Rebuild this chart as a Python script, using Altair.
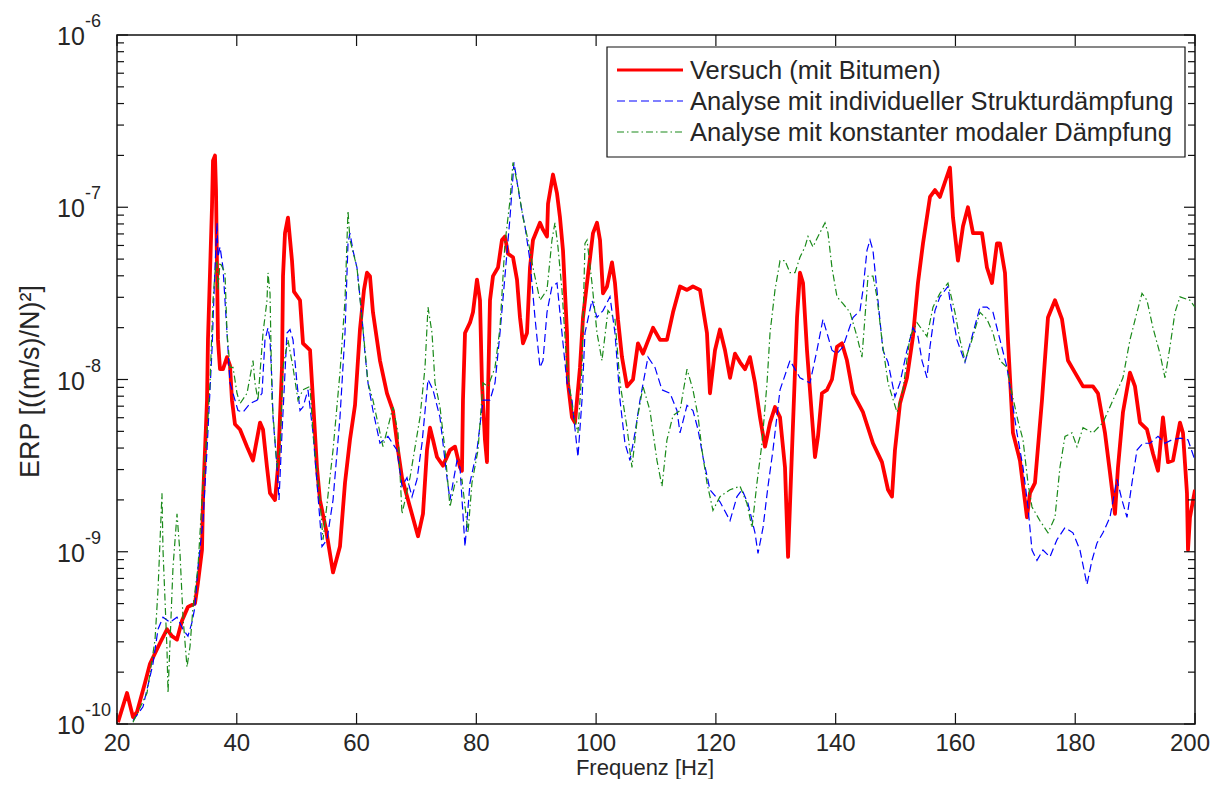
import altair as alt
import pandas as pd

# ---------------- data (frequency in Hz, log10 of ERP) ----------------
red_f = [20.17, 21.67, 22.67, 23.34, 24.68, 25.51, 27.18, 28.35, 29.18, 30.02, 30.85, 31.85, 33.02, 33.52, 34.19,
         34.36, 35.03, 35.19, 35.53, 35.86, 36.03, 36.36, 36.53, 36.86, 37.20, 37.70, 38.37, 38.87, 39.20, 39.70,
         40.54, 41.71, 42.71, 43.88, 44.38, 45.05, 45.55, 46.38, 46.88, 47.55, 47.72, 48.05, 48.55, 49.22, 49.55,
         50.56, 51.06, 52.23, 52.73, 53.39, 53.89, 54.90, 56.07, 57.23, 58.07, 58.90, 59.74, 60.57, 61.24, 61.74,
         62.24, 62.74, 63.91, 65.08, 66.08, 66.92, 67.59, 68.92, 70.26, 71.09, 71.76, 72.26, 72.76, 73.43, 74.43,
         75.60, 76.44, 77.27, 77.60, 77.77, 78.11, 78.94, 79.44, 80.11, 80.61, 80.94, 81.44, 81.78, 81.95, 82.28,
         82.78, 83.62, 84.28, 84.78, 85.29, 86.12, 86.79, 87.29, 87.79, 88.46, 88.96, 89.46, 90.63, 91.13, 91.80,
         91.97, 92.80, 93.47, 93.97, 94.47, 95.14, 95.30, 95.97, 96.47, 97.31, 97.81, 98.48, 99.48, 100.15, 100.65,
         101.15, 101.82, 102.65, 103.15, 103.65, 104.32, 105.16, 106.16, 106.99, 107.83, 109.50, 110.67, 111.83,
         112.84, 114.01, 115.18, 116.17, 117.35, 118.51, 119.01, 119.85, 120.68, 121.52, 122.36, 123.19, 124.03,
         124.86, 125.69, 126.53, 127.37, 128.20, 129.04, 129.87, 130.71, 131.54, 132.05, 132.71, 133.55, 134.04,
         134.55, 135.21, 136.05, 136.55, 137.05, 137.71, 138.55, 139.38, 140.22, 141.05, 141.89, 142.89, 144.56,
         146.23, 147.73, 148.74, 149.40, 149.90, 150.74, 151.91, 152.91, 153.74, 154.58, 155.75, 156.58, 157.41,
         158.58, 159.08, 159.59, 160.42, 161.26, 162.09, 162.93, 164.43, 165.26, 166.10, 166.93, 167.44, 168.27,
         168.77, 169.60, 170.77, 171.94, 172.44, 173.28, 174.45, 175.45, 176.62, 177.79, 178.79, 179.96, 181.30,
         182.96, 183.80, 184.97, 185.80, 186.64, 187.14, 187.97, 189.14, 189.98, 190.81, 191.98, 192.98, 193.82,
         194.65, 195.49, 196.33, 197.49, 197.99, 198.66, 198.83, 199.16, 200.00]
red_log = [-9.99, -9.82, -9.96, -9.93, -9.76, -9.65, -9.53, -9.45, -9.49, -9.51, -9.40, -9.32, -9.30, -9.18, -8.99,
           -8.70, -8.12, -7.77, -7.38, -7.00, -6.73, -6.70, -6.90, -7.77, -7.94, -7.94, -7.87, -7.92, -8.12, -8.26,
           -8.29, -8.39, -8.47, -8.25, -8.29, -8.51, -8.66, -8.70, -8.51, -7.93, -7.40, -7.15, -7.06, -7.31, -7.49,
           -7.54, -7.79, -7.83, -8.12, -8.51, -8.70, -8.87, -9.12, -8.97, -8.60, -8.35, -8.15, -7.71, -7.48, -7.38,
           -7.40, -7.61, -7.89, -8.08, -8.18, -8.41, -8.57, -8.74, -8.91, -8.78, -8.41, -8.28, -8.35, -8.45, -8.50,
           -8.41, -8.39, -8.51, -8.53, -8.12, -7.73, -7.67, -7.61, -7.42, -7.54, -8.02, -8.35, -8.48, -8.08, -7.54,
           -7.40, -7.35, -7.19, -7.17, -7.27, -7.29, -7.42, -7.64, -7.79, -7.73, -7.35, -7.19, -7.09, -7.13, -7.17,
           -6.98, -6.81, -6.92, -7.06, -7.25, -7.73, -8.02, -8.22, -8.25, -7.93, -7.64, -7.44, -7.15, -7.09, -7.19,
           -7.50, -7.46, -7.32, -7.44, -7.65, -7.87, -8.04, -8.00, -7.79, -7.85, -7.70, -7.77, -7.77,
           -7.61, -7.46, -7.48, -7.46, -7.48, -7.73, -8.08, -7.83, -7.71, -7.83, -7.99, -7.85, -7.90,
           -7.94, -7.87, -8.02, -8.22, -8.39, -8.25, -8.16, -8.22, -8.51, -9.03, -8.41, -7.64, -7.38,
           -7.44, -7.83, -8.22, -8.45, -8.33, -8.08, -8.06, -8.00, -7.81, -7.79, -7.89, -8.08, -8.19,
           -8.37, -8.48, -8.64, -8.68, -8.41, -8.14, -7.99, -7.75, -7.44, -7.21, -6.94, -6.90, -6.94,
           -6.82, -6.77, -7.06, -7.31, -7.11, -7.00, -7.15, -7.15, -7.35, -7.44, -7.21, -7.21, -7.38,
           -7.77, -8.31, -8.47, -8.80, -8.66, -8.60, -8.12, -7.64, -7.54, -7.65, -7.89, -7.96, -8.04,
           -8.04, -8.08, -8.31, -8.54, -8.78, -8.51, -8.19, -7.96, -8.04, -8.25, -8.29, -8.43, -8.53,
           -8.22, -8.48, -8.47, -8.25, -8.31, -8.66, -8.99, -8.80, -8.64]

blue_f = [22.67, 24.34, 26.01, 26.85, 27.68, 28.85, 30.02, 31.02, 31.85, 32.52, 33.02, 33.52, 34.36, 35.03, 35.86,
          36.36, 36.70, 36.86, 37.20, 37.70, 38.03, 38.37, 38.87, 39.37, 40.20, 41.04, 42.21, 43.38, 44.21, 44.71,
          45.21, 45.55, 45.88, 46.05, 46.72, 47.05, 47.55, 48.38, 48.89, 49.39, 50.05, 50.56, 51.06, 51.89, 52.73,
          53.39, 54.23, 55.06, 56.07, 57.23, 58.07, 58.57, 58.90, 59.40, 60.07, 60.91, 61.41, 61.91, 62.74, 63.91,
          65.25, 66.75, 67.59, 68.42, 69.26, 70.09, 70.93, 71.93, 72.76, 73.93, 75.10, 75.60, 76.77, 77.27, 78.11,
          78.94, 80.11, 81.11, 82.28, 83.12, 83.95, 84.78, 85.62, 86.29, 87.29, 88.12, 88.96, 89.79, 90.63, 91.13,
          91.80, 92.63, 93.47, 94.30, 95.14, 95.97, 96.97, 97.64, 98.14, 99.31, 100.15, 101.15, 102.32, 103.15,
          103.99, 104.82, 105.66, 106.49, 107.33, 108.66, 109.83, 111.00, 112.34, 113.50, 114.01, 115.18, 116.17,
          117.01, 117.85, 119.01, 120.68, 122.36, 123.52, 124.36, 125.36, 126.53, 127.03, 127.87, 128.70, 129.53,
          130.71, 132.37, 134.04, 135.71, 136.88, 137.88, 139.38, 140.22, 141.22, 142.89, 144.06, 144.56, 145.23,
          145.73, 146.23, 146.89, 147.89, 148.74, 149.90, 150.74, 151.91, 152.91, 153.74, 154.41, 155.25, 155.75,
          156.58, 157.41, 158.75, 159.08, 160.25, 161.59, 162.93, 164.10, 165.26, 166.27, 167.44, 168.61, 169.44,
          170.27, 171.28, 172.11, 172.78, 173.61, 174.61, 175.78, 176.95, 178.29, 179.62, 180.79, 181.96, 182.80,
          183.63, 184.63, 185.80, 186.97, 187.81, 188.64, 189.48, 190.31, 191.31, 192.48, 193.82, 194.99, 196.16,
          197.49, 198.83, 200.00]
blue_log = [-9.98, -9.90, -9.65, -9.45, -9.38, -9.41, -9.38, -9.45, -9.49, -9.41, -9.32, -9.09, -8.82, -8.41, -7.83,
            -7.35, -7.09, -7.29, -7.23, -7.35, -7.54, -7.73, -8.02, -8.08, -8.18, -8.19, -8.14, -8.12, -8.08, -7.77,
            -7.70, -7.77, -8.02, -8.22, -8.51, -8.70, -8.31, -7.73, -7.71, -7.77, -8.02, -8.18, -8.16, -8.06, -8.31,
            -8.60, -8.97, -8.93, -8.70, -8.22, -7.73, -7.21, -7.15, -7.25, -7.35, -7.64, -7.85, -8.02, -8.18, -8.37,
            -8.33, -8.41, -8.62, -8.57, -8.68, -8.58, -8.37, -8.00, -8.06, -8.22, -8.57, -8.70, -8.47, -8.51, -8.97,
            -8.60, -8.41, -8.12, -8.12, -8.02, -7.73, -7.40, -7.06, -6.74, -6.96, -7.11, -7.31, -7.64, -7.93, -7.89,
            -7.61, -7.46, -7.44, -7.73, -8.02, -8.12, -8.45, -8.12, -7.73, -7.54, -7.64, -7.60, -7.52, -7.73,
            -8.12, -8.37, -8.47, -8.31, -8.12, -7.87, -7.93, -8.06, -8.08, -8.18, -8.31, -8.15, -8.18,
            -8.29, -8.45, -8.64, -8.71, -8.82, -8.68, -8.64, -8.72, -8.89, -9.01, -8.86, -8.62, -8.41,
            -8.06, -7.89, -7.99, -8.02, -7.83, -7.65, -7.83, -7.85, -7.81, -7.64, -7.60, -7.48, -7.25,
            -7.19, -7.25, -7.48, -7.83, -7.90, -8.10, -8.02, -7.83, -7.70, -7.75, -7.89, -7.99, -7.81,
            -7.60, -7.52, -7.46, -7.54, -7.77, -7.90, -7.73, -7.58, -7.58, -7.61, -7.77, -7.93, -8.12,
            -8.31, -8.51, -8.74, -8.99, -9.05, -8.99, -9.03, -8.93, -8.86, -8.89, -8.99, -9.19, -9.05,
            -8.95, -8.89, -8.80, -8.58, -8.70, -8.80, -8.60, -8.41, -8.37, -8.37, -8.33, -8.37, -8.35,
            -8.34, -8.35, -8.47]

green_f = [22.67, 25.01, 25.84, 26.35, 26.85, 27.51, 27.68, 28.35, 28.52, 28.85, 29.35, 30.02, 30.52, 31.02, 31.69,
           32.19, 32.69, 33.52, 34.36, 35.03, 35.53, 36.03, 36.36, 36.70, 36.86, 37.20, 38.03, 38.37, 38.87, 39.37,
           40.04, 40.54, 41.71, 42.71, 43.04, 43.54, 44.38, 45.05, 45.21, 45.55, 45.88, 46.72, 47.22, 47.72, 48.55,
           49.39, 50.22, 51.06, 52.23, 52.73, 53.89, 54.40, 56.07, 57.23, 58.07, 58.57, 58.90, 60.07, 61.41, 61.91,
           62.74, 64.41, 66.08, 66.92, 67.59, 68.92, 70.59, 71.43, 71.93, 72.60, 73.10, 73.93, 74.77, 75.60, 76.44,
           77.60, 78.61, 79.27, 80.28, 81.11, 81.95, 83.12, 83.95, 84.78, 85.62, 86.12, 86.96, 87.79, 88.63, 89.46,
           90.63, 91.80, 92.63, 93.13, 93.63, 94.30, 95.14, 96.14, 96.97, 97.64, 98.14, 98.48, 99.31, 100.15,
           100.98, 101.98, 103.15, 103.99, 105.16, 105.99, 106.83, 107.83, 108.99, 110.16, 111.00, 111.83, 112.84,
           114.01, 115.18, 116.17, 117.01, 117.68, 118.51, 119.51, 120.68, 122.36, 124.03, 125.19, 126.03, 126.86,
           127.70, 128.54, 129.04, 129.87, 130.71, 131.54, 132.37, 133.21, 134.04, 134.88, 135.38, 136.21, 137.05,
           138.22, 138.72, 139.38, 140.22, 141.22, 142.39, 143.56, 144.39, 144.89, 145.40, 146.23, 146.89, 147.73,
           148.74, 150.24, 151.24, 152.41, 153.58, 155.25, 156.25, 157.41, 158.75, 159.92, 160.76, 161.59, 162.76,
           164.10, 165.26, 166.27, 167.44, 168.61, 169.44, 170.44, 171.28, 172.11, 172.78, 174.11, 175.45, 176.62,
           177.45, 178.29, 179.46, 180.29, 181.30, 182.96, 184.63, 186.30, 187.97, 189.14, 190.31, 191.15, 191.98,
           192.98, 194.15, 194.99, 195.82, 196.66, 197.49, 199.16, 200.00]
green_log = [-9.99, -9.82, -9.63, -9.51, -9.22, -8.66, -8.99, -9.57, -9.82, -9.53, -9.09, -8.78, -9.01, -9.38, -9.67,
             -9.55, -9.32, -9.09, -8.60, -8.31, -8.02, -7.54, -7.38, -7.31, -7.48, -7.32, -7.38, -7.73, -7.93, -7.93,
             -8.08, -8.14, -8.08, -7.89, -8.02, -8.12, -7.73, -7.54, -7.38, -7.50, -8.12, -8.51, -8.41, -7.93, -7.77,
             -7.93, -8.12, -8.06, -8.04, -8.31, -8.70, -8.93, -8.41, -7.96, -7.54, -7.02, -7.19, -7.35, -7.83, -8.02,
             -8.12, -8.39, -8.16, -8.31, -8.78, -8.57, -8.22, -7.93, -7.58, -7.73, -8.02, -8.16, -8.41, -8.74, -8.60,
             -8.58, -8.89, -8.60, -8.41, -8.02, -8.04, -7.93, -7.70, -7.21, -6.96, -6.74, -6.88, -7.06, -7.19, -7.35,
             -7.54, -7.48, -7.19, -7.09, -7.23, -7.48, -7.93, -8.19, -8.31, -7.93, -7.21, -7.19, -7.44, -7.73,
             -7.89, -7.60, -7.65, -8.02, -8.28, -8.51, -8.24, -8.04, -8.18, -8.47, -8.62, -8.35, -8.21,
             -8.18, -7.94, -8.06, -8.21, -8.41, -8.60, -8.76, -8.68, -8.64, -8.62, -8.72, -8.86, -8.60,
             -8.37, -8.02, -7.73, -7.48, -7.31, -7.31, -7.38, -7.38, -7.29, -7.23, -7.17, -7.23, -7.17,
             -7.09, -7.15, -7.35, -7.52, -7.56, -7.61, -7.75, -7.87, -7.64, -7.40, -7.40, -7.52, -7.77,
             -8.02, -8.19, -8.06, -7.75, -7.67, -7.75, -7.58, -7.50, -7.44, -7.61, -7.77, -7.89, -7.77,
             -7.61, -7.65, -7.73, -7.89, -7.93, -8.08, -8.24, -8.35, -8.60, -8.74, -8.82, -8.89, -8.80,
             -8.51, -8.33, -8.31, -8.39, -8.28, -8.31, -8.25, -8.12, -7.99, -7.77, -7.61, -7.50, -7.54,
             -7.70, -7.85, -7.99, -7.81, -7.61, -7.52, -7.54, -7.58]

series_names = ["Versuch (mit Bitumen)",
                "Analyse mit individueller Strukturdämpfung",
                "Analyse mit konstanter modaler Dämpfung"]
series_colors = ["#ff0000", "#0000ff", "#1a8a1a"]

x_tick_values = [20, 40, 60, 80, 100, 120, 140, 160, 180, 200]
x_tick_labels = ["20", "40", "60", "80", "100", "120", "140", "160", "180", "200"]
y_major_values = [1e-10, 1e-9, 1e-8, 1e-7, 1e-6]
y_exp_labels = ["-10", "-9", "-8", "-7", "-6"]
y_minor_values = [m * d for d in [1e-10, 1e-9, 1e-8, 1e-7] for m in range(2, 10)]

# ---------------- chart ----------------
W, H = 1078, 689
FONT = "Liberation Sans"
TXT = "#262626"

xscale = alt.Scale(domain=[20, 200], nice=False, zero=False)
yscale = alt.Scale(type="log", domain=[1e-10, 1e-6], nice=False)


def X(field):
    return alt.X(field, type="quantitative", scale=xscale, axis=None)


def Y(field):
    return alt.Y(field, type="quantitative", scale=yscale, axis=None)


def line_df(f, lg):
    return pd.DataFrame({"f": f, "v": [10 ** e for e in lg]})


red = alt.Chart(line_df(red_f, red_log)).mark_line(
    color=series_colors[0], strokeWidth=3.8, clip=True, strokeJoin="round").encode(x=X("f"), y=Y("v"))
blue = alt.Chart(line_df(blue_f, blue_log)).mark_line(
    color=series_colors[1], strokeWidth=1.2, strokeDash=[8, 4], clip=True).encode(x=X("f"), y=Y("v"))
green = alt.Chart(line_df(green_f, green_log)).mark_line(
    color=series_colors[2], strokeWidth=1.2, strokeDash=[7, 3, 1.5, 3], clip=True).encode(x=X("f"), y=Y("v"))

ymaj = pd.DataFrame({"v": y_major_values, "e": y_exp_labels})
ymin = pd.DataFrame({"v": y_minor_values})
xt = pd.DataFrame({"f": x_tick_values, "lab": x_tick_labels})

tick_style = dict(color="#111", strokeWidth=1.2)
ticks = [
    alt.Chart(ymaj).mark_rule(**tick_style).encode(y=Y("v"), x=alt.value(0), x2=alt.value(11)),
    alt.Chart(ymaj).mark_rule(**tick_style).encode(y=Y("v"), x=alt.value(W - 11), x2=alt.value(W)),
    alt.Chart(ymin).mark_rule(**tick_style).encode(y=Y("v"), x=alt.value(0), x2=alt.value(7)),
    alt.Chart(ymin).mark_rule(**tick_style).encode(y=Y("v"), x=alt.value(W - 7), x2=alt.value(W)),
    alt.Chart(xt).mark_rule(**tick_style).encode(x=X("f"), y=alt.value(H - 11), y2=alt.value(H)),
    alt.Chart(xt).mark_rule(**tick_style).encode(x=X("f"), y=alt.value(0), y2=alt.value(11)),
]

# x tick labels (last one kept inside the page)
xlab_mid = alt.Chart(xt).transform_filter("datum.f < 200").mark_text(
    font=FONT, fontSize=24, color=TXT, align="center", baseline="top").encode(
    x=X("f"), y=alt.value(H + 8), text="lab:N")
xlab_end = alt.Chart(xt).transform_filter("datum.f >= 200").mark_text(
    font=FONT, fontSize=24, color=TXT, align="right", baseline="top", dx=15).encode(
    x=X("f"), y=alt.value(H + 8), text="lab:N")

ylab_base = alt.Chart(ymaj).mark_text(text="10", font=FONT, fontSize=25, color=TXT, align="left",
                                      baseline="alphabetic", dy=10).encode(y=Y("v"), x=alt.value(-60))
ylab_exp = alt.Chart(ymaj).mark_text(font=FONT, fontSize=18, color=TXT, align="left",
                                     baseline="alphabetic", dy=-8).encode(y=Y("v"), x=alt.value(-32), text="e:N")

one = pd.DataFrame({"k": [0]})
ytitle = alt.Chart(one).mark_text(text="ERP [((m/s)/N)²]", font=FONT, fontSize=27, color=TXT, angle=270,
                                  align="center", baseline="middle").encode(x=alt.value(-86), y=alt.value(H / 2 + 2))
xtitle = alt.Chart(one).mark_text(text="Frequenz [Hz]", font=FONT, fontSize=22, color=TXT,
                                  align="center", baseline="alphabetic").encode(x=alt.value(W / 2 - 11), y=alt.value(H + 51))

# legend box
LX0, LX1, LY0, LY1 = 490, 1068, 12, 122
legend_box = alt.Chart(one).mark_rect(fill="white", stroke="#111", strokeWidth=1.2).encode(
    x=alt.value(LX0), x2=alt.value(LX1), y=alt.value(LY0), y2=alt.value(LY1))
row_y = [35, 66, 97]
legend_layers = [legend_box]
dashes = [None, [8, 4], [7, 3, 1.5, 3]]
widths = [3, 1.2, 1.2]
for i in range(3):
    kw = dict(color=series_colors[i], strokeWidth=widths[i])
    if dashes[i] is not None:
        kw["strokeDash"] = dashes[i]
    legend_layers.append(alt.Chart(one).mark_rule(**kw).encode(
        x=alt.value(LX0 + 10), x2=alt.value(LX0 + 76), y=alt.value(row_y[i])))
    legend_layers.append(alt.Chart(pd.DataFrame({"label": [series_names[i]]})).mark_text(
        font=FONT, fontSize=25.5, color=TXT, align="left", baseline="middle").encode(
        x=alt.value(LX0 + 83), y=alt.value(row_y[i] + 1), text="label:N"))

chart = alt.layer(red, blue, green, *ticks, xlab_mid, xlab_end, ylab_base, ylab_exp, ytitle, xtitle,
                  *legend_layers).properties(
    width=W, height=H,
    padding={"left": 109, "top": 27, "right": 16, "bottom": 55},
    autosize=alt.AutoSizeParams(type="none"),
    background="white",
).configure_view(stroke="#111", strokeWidth=1.5)

chart.save("out.html", embed_options={"renderer": "svg", "actions": False})
